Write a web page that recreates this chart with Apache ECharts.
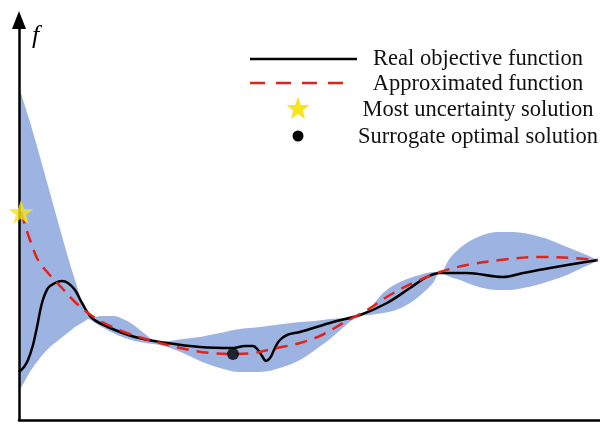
<!DOCTYPE html>
<html>
<head>
<meta charset="utf-8">
<script src="https://cdn.jsdelivr.net/npm/echarts@6/dist/echarts.min.js"></script>
<style>html,body{margin:0;padding:0;background:#fff}#c{width:600px;height:427px}</style>
</head>
<body>
<div id="c"></div>
<script>
// x: design variable (arbitrary units 0..581), f: objective (arbitrary units 0..400)
const realX = [0,5,9,14,18,23,29,36,43,49,56,63,73,89,116,148,181,214,226,234,239,243,247,251,255,260,268,281,314,341,368,391,408,421,448,484,504,531,579];
const realY = [48,53,60,75,93,117,132,137,139,137,130,117,102,93,83,77,73,72,74,74,70,64,59,62,70,79,85,88,98,105,117,132,143,147,147,143,147,152,160];

const approxX = [2,6,11,19,29,43,56,69,83,108,141,171,191,214,234,258,281,303,324,348,371,394,421,448,481,521,554,579];
const approxY = [208,195,180,160,147,132,118,107,98,87,77,70,67,66,67,72,77,85,97,110,125,137,148,155,160,163,162,160];

const bandX     = [0,11,21,31,41,51,56,61,66,69,76,81,94,106,116,126,134,141,151,164,181,201,221,241,264,281,296,311,326,338,351,364,377,391,404,414,421,431,441,451,464,478,491,504,518,531,548,563,579];
const bandUpper = [333,298,263,227,191,156,140,124,111,104,103,104,104,100,94,86,80,78,79,81,83,87,91,93,96,98,99,101,102,103,112,127,136,142,146,148,148,162,172,179,185,188,188,187,184,180,173,167,160];
const bandLower = [28,48,62,73,81,89,93,96,99,101,97,94,87,82,79,77,76,75,72,67,59,52,48,48,53,60,70,81,94,103,105,107,110,117,127,137,147,143,140,136,132,130,130,132,135,139,145,152,159];

const starPoint = [[2, 208]];
const surrogatePoint = [[214, 66]];

const legendLabels = ['Real objective function','Approximated function','Most uncertainty solution','Surrogate optimal solution'];

const STAR = 'path://M0,-10L2.35,-3.24L9.51,-3.09L3.8,1.24L5.88,8.09L0,4L-5.88,8.09L-3.8,1.24L-9.51,-3.09L-2.35,-3.24Z';
const BAND = '#9db4e3';
const RED = '#e2231a';
const YELLOW = '#f6e41c';

function pairs(xs, ys){ return xs.map((x,i)=>[x, ys[i]]); }

function starPoly(cx, cy, R, r){
  const pts=[];
  for(let i=0;i<10;i++){
    const a = -Math.PI/2 + i*Math.PI/5;
    const rr = i%2===0 ? R : r;
    pts.push([cx + rr*Math.cos(a), cy + rr*Math.sin(a)]);
  }
  return pts;
}

const chart = echarts.init(document.getElementById('c'), null, {renderer:'canvas'});
const font = '"Liberation Serif", "Times New Roman", serif';
const option = {
  animation: false,
  backgroundColor: '#fff',
  grid: {left: 19, right: 0, top: 20, bottom: 7, containLabel: false},
  xAxis: {
    type: 'value', min: 0, max: 581, z: 20,
    axisLine: {show: true, lineStyle: {color: '#000', width: 2.5}},
    axisTick: {show: false}, axisLabel: {show: false}, splitLine: {show: false}
  },
  yAxis: {
    type: 'value', min: 0, max: 400, z: 20,
    name: 'f', nameLocation: 'end', nameGap: -16,
    nameTextStyle: {fontFamily: font, fontStyle: 'italic', fontSize: 26, color: '#000', align: 'left', verticalAlign: 'middle', padding: [0,0,0,13]},
    axisLine: {show: true, symbol: ['none','triangle'], symbolSize: [14, 18], lineStyle: {color: '#000', width: 2.5}},
    axisTick: {show: false}, axisLabel: {show: false}, splitLine: {show: false}
  },
  series: [
    {type:'line', name:'bandUpper', data: pairs(bandX, bandUpper), smooth:0.35, symbol:'none',
     lineStyle:{width:0, opacity:0}, areaStyle:{color: BAND, opacity:1}, silent:true, z:1},
    {type:'line', name:'bandLower', data: pairs(bandX, bandLower), smooth:0.35, symbol:'none',
     lineStyle:{width:0, opacity:0}, areaStyle:{color: '#ffffff', opacity:1}, silent:true, z:1},
    {type:'line', name: legendLabels[0], data: pairs(realX, realY), smooth:0.35, symbol:'none',
     lineStyle:{color:'#000', width:2.5}, z:3},
    {type:'line', name: legendLabels[1], data: pairs(approxX, approxY), smooth:0.35, symbol:'none',
     lineStyle:{color: RED, width:2.5, type:[12,8]}, z:4},
    {type:'scatter', name: legendLabels[2], data: starPoint, symbol: STAR, symbolSize:[25,24],
     itemStyle:{color: YELLOW}, z:30},
    {type:'scatter', name: legendLabels[3], data: surrogatePoint, symbol:'circle', symbolSize:12,
     itemStyle:{color:'#000'}, z:30}
  ],
  graphic: [
    {type:'line', z:100, shape:{x1:250,y1:59,x2:357,y2:59}, style:{stroke:'#000', lineWidth:2.5}},
    {type:'line', z:100, shape:{x1:250,y1:83,x2:352,y2:83}, style:{stroke:RED, lineWidth:2.5, lineDash:[15,11]}},
    {type:'polygon', z:100, shape:{points: starPoly(298,109,12,5)}, style:{fill:YELLOW}},
    {type:'circle', z:100, shape:{cx:298,cy:136,r:5.5}, style:{fill:'#000'}},
    ...legendLabels.map((t,i)=>({type:'text', z:100, x:478, y:[59,84,110,137][i],
      style:{text:t, font:'22.5px ' + font, fill:'#111', align:'center', verticalAlign:'middle'}}))
  ]
};
chart.setOption(option);
</script>
</body>
</html>
